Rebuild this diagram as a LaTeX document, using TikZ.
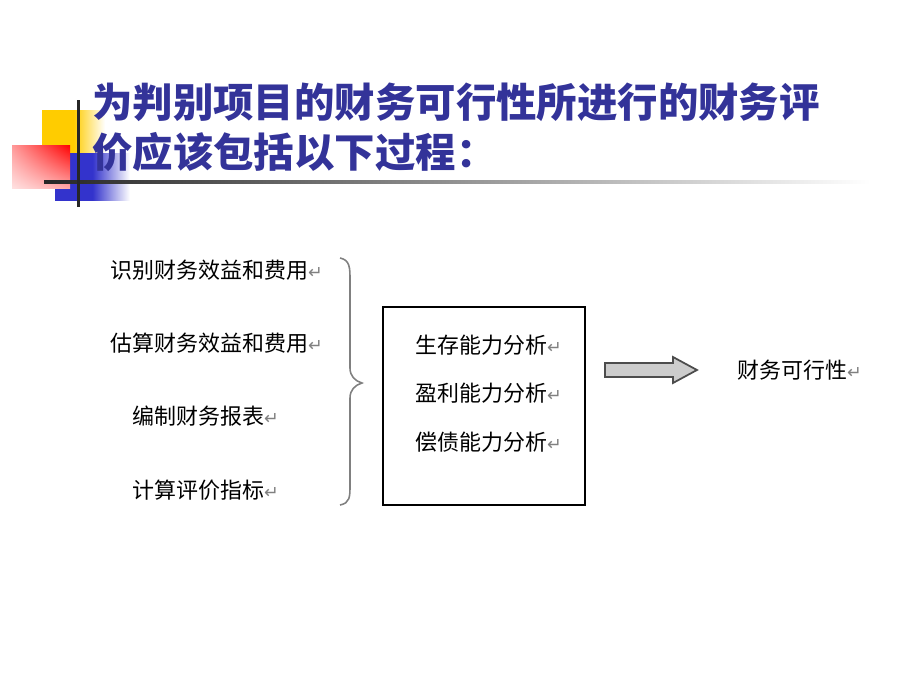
\documentclass[tikz,border=0pt]{standalone}
\usepackage{fontspec}
\newfontfamily\cjk{Noto Sans CJK SC}
\newfontfamily\dejavu{DejaVu Sans}
\usetikzlibrary{positioning,shadings}
\definecolor{titleblue}{RGB}{51,51,153}
\definecolor{decoyellow}{RGB}{255,204,0}
\definecolor{decored}{RGB}{255,0,0}
\definecolor{decoblue}{RGB}{51,51,204}
\newcommand{\retmark}{{\dejavu\color{gray}\fontsize{10}{10}\selectfont ↵}}
\tikzset{
  titletext/.style={anchor=west, inner sep=0pt, text=titleblue, font=\cjk\bfseries\fontsize{23}{27}\selectfont},
  item/.style={anchor=west, inner sep=0pt, font=\cjk\fontsize{12.5}{14}\selectfont},
}

\begin{document}
\begin{tikzpicture}[x=0.02cm, y=-0.02cm]
		\useasboundingbox (0,0) rectangle (920,690);
		% corner decoration
		\shade[left color=decoyellow, right color=white, middle color=decoyellow] (42,110) rectangle (105,153);
		\shade[left color=decoblue, right color=white, middle color=decoblue] (55,153) rectangle (130,200);
		\shade[upper left=decored!40, upper right=decored, lower left=decored!12, lower right=decored!35] (12,145) rectangle (70,188);
		\shade[left color=black!85, right color=white] (44,180) rectangle (870,183);
		\fill[black!85] (77,100) rectangle (80,207);
		% title
		\node (title1) [titletext] at (92,102) {为判别项目的财务可行性所进行的财务评};
		\node (title2) [titletext] at (92,152) {价应该包括以下过程：};
		% steps
		\node (identify) [item] at (110,270) {识别财务效益和费用\retmark};
		\node (estimate) [item] at (110,343) {估算财务效益和费用\retmark};
		\node (report) [item] at (132,416) {编制财务报表\retmark};
		\node (indicator) [item] at (132,490) {计算评价指标\retmark};
		\draw[gray, line width=0.9pt] (340,258) .. controls (350,260) and (350,268) .. (350,280) -- (350,368)
			.. controls (350,376) and (355,381) .. (362,383) .. controls (355,385) and (350,390) .. (350,398)
			-- (350,485) .. controls (350,497) and (350,503) .. (340,505);
		% analysis box
		\draw[line width=1.5pt] (383,307) rectangle (585,505);
		\node (survival) [item] at (415,345) {生存能力分析\retmark};
		\node (profit) [item] at (415,393) {盈利能力分析\retmark};
		\node (solvency) [item] at (415,442) {偿债能力分析\retmark};
		% result
		\draw[fill=gray!40, draw=gray!60!black, line width=1pt] (605,363) -- (673,363) -- (673,357) -- (697,370)
			-- (673,383) -- (673,377) -- (605,377) -- cycle;
		\node (feasible) [item] at (737,370) {财务可行性\retmark};
\end{tikzpicture}
\end{document}
